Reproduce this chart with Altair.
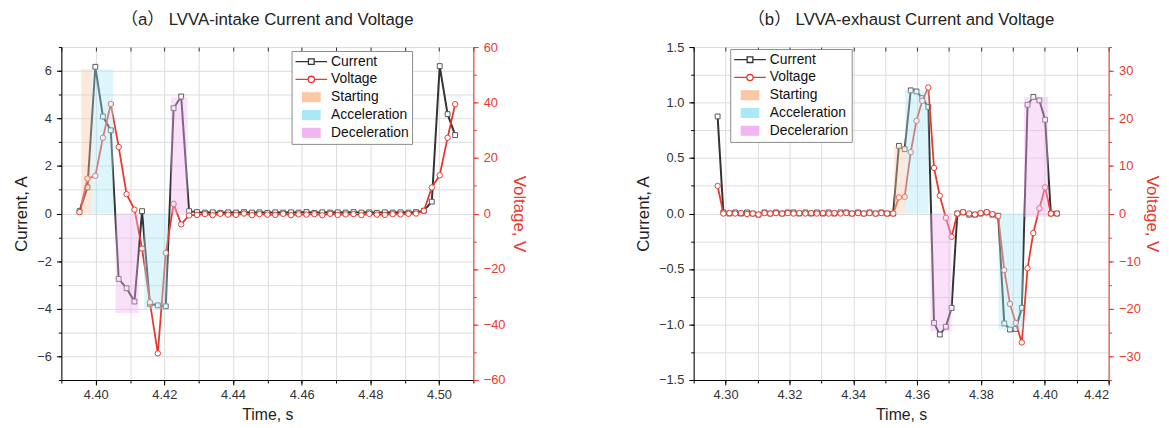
import altair as alt
import pandas as pd

# ---------------- Panel (a) : LVVA-intake ----------------
t_a = [4.3953, 4.3976, 4.3999, 4.4021, 4.4044, 4.4067, 4.4090, 4.4113, 4.4135, 4.4158,
       4.4181, 4.4204, 4.4227, 4.4249, 4.4272, 4.4295, 4.4318, 4.4341, 4.4363, 4.4386,
       4.4409, 4.4432, 4.4455, 4.4477, 4.4500, 4.4523, 4.4546, 4.4569, 4.4591, 4.4614,
       4.4637, 4.4660, 4.4683, 4.4705, 4.4728, 4.4751, 4.4774, 4.4797, 4.4819, 4.4842,
       4.4865, 4.4888, 4.4911, 4.4933, 4.4956, 4.4979, 4.5002, 4.5025, 4.5047]
current_a = [0.10, 1.10, 6.17, 4.08, 3.50, -2.75, -3.14, -3.70, 0.10, -3.80,
             -3.86, -3.90, 4.43, 4.92, 0.10, 0.06, 0.04, 0.05, 0.03, 0.05,
             0.04, 0.06, 0.04, 0.05, 0.03, 0.05, 0.04, 0.05, 0.04, 0.06,
             0.03, 0.05, 0.04, 0.05, 0.04, 0.06, 0.04, 0.05, 0.03, 0.05,
             0.04, 0.05, 0.04, 0.06, 0.12, 0.50, 6.20, 4.18, 3.30]
voltage_a = [0.5, 12.6, 13.6, 27.3, 39.5, 24.0, 7.0, 1.4, -12.6, -32.0,
             -50.4, -14.2, 3.5, -3.9, -0.7, -0.5, -0.2, -0.6, -0.1, -0.4,
             -0.5, 0.0, -0.6, -0.2, -0.4, -0.5, -0.1, -0.6, -0.3, -0.4,
             -0.2, -0.6, -0.1, -0.5, -0.3, -0.2, -0.6, -0.1, -0.4, -0.5,
             -0.2, -0.3, -0.1, 0.0, 1.0, 9.4, 13.8, 27.3, 39.4]
phase_a = ["Starting", "Acceleration", "Deceleration", "Acceleration", "Deceleration"]
phase_a_start = [4.3958, 4.3990, 4.4058, 4.4141, 4.4219]
phase_a_end = [4.3990, 4.4051, 4.4125, 4.4210, 4.4268]
phase_a_low = [0.0, 0.0, -4.18, -4.00, 0.0]
phase_a_high = [6.07, 6.07, 0.0, 0.0, 4.88]

# ---------------- Panel (b) : LVVA-exhaust ----------------
t_b = [4.2975, 4.2993, 4.3012, 4.3030, 4.3048, 4.3067, 4.3085, 4.3103, 4.3122, 4.3140,
       4.3158, 4.3177, 4.3195, 4.3213, 4.3231, 4.3250, 4.3268, 4.3286, 4.3305, 4.3323,
       4.3341, 4.3360, 4.3378, 4.3396, 4.3415, 4.3433, 4.3451, 4.3470, 4.3488, 4.3506,
       4.3525, 4.3543, 4.3561, 4.3580, 4.3598, 4.3616, 4.3635, 4.3653, 4.3671, 4.3690,
       4.3708, 4.3726, 4.3744, 4.3763, 4.3781, 4.3799, 4.3818, 4.3836, 4.3854, 4.3873,
       4.3891, 4.3909, 4.3928, 4.3946, 4.3964, 4.3983, 4.4001, 4.4019, 4.4038]
current_b = [0.875, 0.01, 0.00, 0.01, 0.00, 0.01, 0.00, -0.01, 0.01, 0.00,
             0.01, 0.00, 0.01, 0.01, 0.00, 0.01, 0.00, 0.01, 0.00, 0.01,
             0.00, 0.01, 0.01, 0.00, 0.01, 0.00, 0.01, 0.00, 0.01, 0.00,
             0.00, 0.61, 0.58, 1.11, 1.10, 1.04, 0.96, -0.985, -1.09, -1.02,
             -0.85, 0.00, 0.01, -0.01, -0.01, 0.00, 0.01, -0.01, -0.02, -0.99,
             -1.045, -1.04, -0.85, 0.98, 1.05, 1.02, 0.845, 0.00, 0.00]
voltage_b = [5.8, 0.0, 0.1, 0.0, 0.1, -0.1, 0.0, -0.2, 0.1, 0.0,
             0.1, 0.0, 0.1, 0.0, 0.1, 0.0, 0.1, 0.0, 0.1, 0.0,
             0.1, 0.0, 0.1, 0.0, 0.1, 0.0, 0.1, 0.0, 0.1, 0.0,
             0.0, 3.4, 3.5, 12.9, 19.5, 23.7, 26.5, 9.6, 3.75, -0.9,
             -4.9, 0.0, 0.3, 0.0, -0.2, 0.1, 0.3, -0.1, -0.5, -11.9,
             -19.0, -23.0, -27.1, -11.5, -4.1, 1.1, 5.5, 0.0, 0.0]
phase_b = ["Starting", "Acceleration", "Decelerarion", "Acceleration", "Decelerarion"]
phase_b_start = [4.3528, 4.3562, 4.3642, 4.3855, 4.3935]
phase_b_end = [4.3562, 4.3636, 4.3708, 4.3932, 4.4010]
phase_b_low = [0.0, 0.0, -1.06, -1.05, -0.03]
phase_b_high = [0.61, 1.11, 0.0, 0.0, 1.05]

# ---------------- axis tick values ----------------
xmaj_a = [4.40, 4.42, 4.44, 4.46, 4.48, 4.50]
xmin_a = [4.39, 4.40, 4.41, 4.42, 4.43, 4.44, 4.45, 4.46, 4.47, 4.48, 4.49, 4.50, 4.51]
ymaj_a = [-6, -4, -2, 0, 2, 4, 6]
ymin_a = [-7, -6, -5, -4, -3, -2, -1, 0, 1, 2, 3, 4, 5, 6, 7]
vmaj_a = [-60, -40, -20, 0, 20, 40, 60]
vmin_a = [-60, -50, -40, -30, -20, -10, 0, 10, 20, 30, 40, 50, 60]

xmaj_b = [4.30, 4.32, 4.34, 4.36, 4.38, 4.40, 4.42]
xmin_b = [4.29, 4.30, 4.31, 4.32, 4.33, 4.34, 4.35, 4.36, 4.37, 4.38, 4.39, 4.40, 4.41, 4.42]
ymaj_b = [-1.5, -1.0, -0.5, 0.0, 0.5, 1.0, 1.5]
ymin_b = [-1.5, -1.25, -1.0, -0.75, -0.5, -0.25, 0.0, 0.25, 0.5, 0.75, 1.0, 1.25, 1.5]
vmaj_b = [-30, -20, -10, 0, 10, 20, 30]
vmin_b = [-35, -30, -25, -20, -15, -10, -5, 0, 5, 10, 15, 20, 25, 30, 35]

FONT = "Liberation Sans, Arial, Noto Sans CJK SC"
RED = "#e8392f"
DARK = "#333333"
GRID = "#dcdcdc"
PHASE_COLORS = ["#f9c9a6", "#a9e9f5", "#f1b5f2"]

SHAPE_EXPR = ("datum.value=='Current' ? 'M-1,0H-0.18M0.18,0H1M-0.18,-0.18H0.18V0.18H-0.18Z' : "
              "datum.value=='Voltage' ? 'M-1,0H-0.2M0.2,0H1M-0.2,0A0.2,0.2 0 1,0 0.2,0A0.2,0.2 0 1,0 -0.2,0Z' : "
              "'M-0.55,-0.28H0.55V0.28H-0.55Z'")
FILL_EXPR = ("(datum.value=='Current' || datum.value=='Voltage') ? '#ffffff' : "
             "datum.value=='Starting' ? '#f9c9a6' : datum.value=='Acceleration' ? '#a9e9f5' : '#f1b5f2'")


def panel(t, cur, volt, ph, p0, p1, plo, phi, xdom, ydom, vdom,
          xmaj, xmin, ymaj, ymin, vmaj, vmin, yfmt, title, legx, legy, width,
          left_tp, right_tp):
    df = pd.DataFrame({"t": t, "cur": cur, "volt": volt,
                       "cs": ["Current"] * len(t), "vs": ["Voltage"] * len(t)})
    rdf = pd.DataFrame({"t0": p0, "t1": p1, "lo": plo, "hi": phi, "phase": ph})
    names = ["Current", "Voltage", ph[0], ph[1], ph[2]]
    sscale = alt.Scale(domain=names, range=[DARK, RED] + PHASE_COLORS)
    fscale = alt.Scale(domain=[ph[0], ph[1], ph[2]], range=PHASE_COLORS)
    xs = alt.Scale(domain=xdom, nice=False, zero=False)
    ys = alt.Scale(domain=ydom, nice=False, zero=False)
    vs = alt.Scale(domain=vdom, nice=False, zero=False)

    legend = alt.Legend(
        orient="none", legendX=legx, legendY=legy, title=None,
        symbolSize=1024, clipHeight=15.5, rowPadding=2, labelOffset=3,
        labelFontSize=14, labelFont=FONT, labelColor="#111111",
        padding=3, strokeColor="#8a8a8a", fillColor="white",
        symbolStrokeWidth=1.3,
        symbolType={"expr": SHAPE_EXPR},
        symbolFillColor={"expr": FILL_EXPR},
        symbolOpacity=1,
    )

    base = alt.Chart(df)
    cur_line = base.mark_line(strokeWidth=2, clip=True).encode(
        x=alt.X("t:Q", scale=xs, title="Time, s",
                axis=alt.Axis(orient="bottom", values=xmaj, format=".2f", grid=False,
                              tickSize=5, labelPadding=4, domainColor="black", tickColor="black",
                              labelFontSize=13, labelColor="#333333", labelFont=FONT,
                              titleFont=FONT, titleFontSize=16, titleFontWeight="normal",
                              titleColor="#222222", titlePadding=5)),
        y=alt.Y("cur:Q", scale=ys, title="Current, A",
                axis=alt.Axis(orient="left", values=ymaj, format=yfmt, grid=False,
                              tickSize=5, labelPadding=5, domainColor="black", tickColor="black",
                              labelFontSize=13, labelColor="#333333", labelFont=FONT,
                              titleFont=FONT, titleFontSize=17, titleFontWeight="normal",
                              titleColor="#222222", titlePadding=left_tp)),
        stroke=alt.Stroke("cs:N", scale=sscale, legend=legend),
    )
    cur_pts = base.mark_point(shape="square", size=24, filled=False, fill="white",
                              stroke="#555555", strokeWidth=1, opacity=1, clip=True).encode(
        x=alt.X("t:Q", scale=xs, title=None,
                axis=alt.Axis(orient="bottom", values=xmin, labels=False, domain=False,
                              tickSize=3, tickColor="black", grid=True, gridColor=GRID)),
        y=alt.Y("cur:Q", scale=ys, title=None,
                axis=alt.Axis(orient="left", values=ymin, labels=False, domain=False,
                              tickSize=3, tickColor="black", grid=True, gridColor=GRID)),
    )
    volt_line = base.mark_line(strokeWidth=1.8, clip=True).encode(
        x=alt.X("t:Q", scale=xs, title=None,
                axis=alt.Axis(orient="top", values=xmin, labels=False, domain=False,
                              tickSize=4, offset=-4, tickColor="#333333", grid=False)),
        y=alt.Y("volt:Q", scale=vs, title="Voltage, V",
                axis=alt.Axis(orient="right", values=vmaj, format="d", grid=False,
                              tickSize=5, labelPadding=5, domainColor=RED, tickColor=RED,
                              labelFontSize=13, labelColor=RED, labelFont=FONT,
                              titleFont=FONT, titleFontSize=17, titleFontWeight="normal",
                              titleColor=RED, titlePadding=right_tp)),
        stroke=alt.Stroke("vs:N", scale=sscale, legend=None),
    )
    volt_pts = base.mark_point(shape="circle", size=30, filled=False, fill="white",
                               stroke=RED, strokeWidth=1, opacity=1, clip=True).encode(
        x=alt.X("t:Q", scale=xs, axis=None),
        y=alt.Y("volt:Q", scale=vs, title=None,
                axis=alt.Axis(orient="right", values=vmin, labels=False, domain=False,
                              tickSize=3, tickColor=RED, grid=False)),
    )
    rects = alt.Chart(rdf).mark_rect(opacity=0.4).encode(
        x=alt.X("t0:Q", scale=xs, axis=None),
        x2="t1:Q",
        y=alt.Y("lo:Q", scale=ys, axis=None),
        y2="hi:Q",
        fill=alt.Fill("phase:N", scale=fscale, legend=None),
    )
    return alt.layer(cur_line, cur_pts, volt_line, volt_pts, rects).resolve_scale(
        y="independent").resolve_axis(x="independent").properties(
        width=width, height=337,
        title=alt.Title(title, font=FONT, fontSize=17, fontWeight="normal",
                        color="#222222", offset=12, anchor="middle"))


pa = panel(t_a, current_a, voltage_a, phase_a, phase_a_start, phase_a_end, phase_a_low, phase_a_high,
           [4.39, 4.51], [-7, 7], [-60, 60], xmaj_a, xmin_a, ymaj_a, ymin_a, vmaj_a, vmin_a, "d",
           "（a） LVVA-intake Current and Voltage", 233, 4, 417, 6, 5)
pb = panel(t_b, current_b, voltage_b, phase_b, phase_b_start, phase_b_end, phase_b_low, phase_b_high,
           [4.29, 4.42], [-1.5, 1.5], [-35, 35], xmaj_b, xmin_b, ymaj_b, ymin_b, vmaj_b, vmin_b, ".1f",
           "（b） LVVA-exhaust Current and Voltage", 37, 2, 420, 6, 2)

chart = alt.hconcat(pa, pb, spacing=106).resolve_scale(
    stroke="independent", fill="independent").properties(
    padding={"left": 4, "top": 0, "right": 0, "bottom": 0}
).configure_view(stroke="black", strokeWidth=1).configure(background="white")

chart.save("out.html", embed_options={"renderer": "svg", "actions": False})
